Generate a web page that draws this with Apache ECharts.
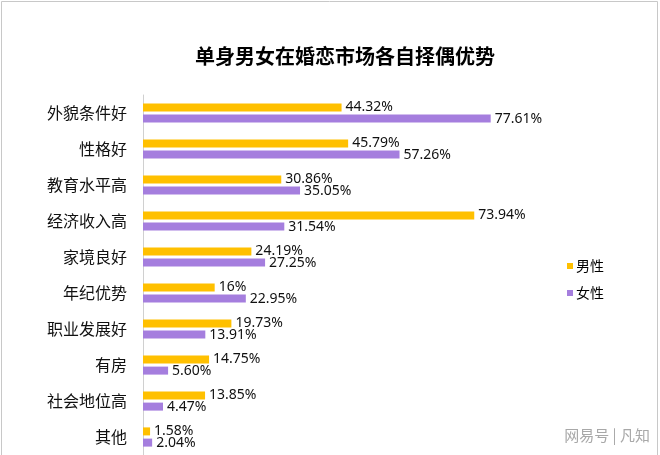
<!DOCTYPE html>
<html>
<head>
<meta charset="utf-8">
<script src="https://cdn.jsdelivr.net/npm/echarts@6/dist/echarts.min.js"></script>
<style>
  html, body { margin: 0; padding: 0; background: #fff; }
  #main { width: 660px; height: 455px; }
</style>
</head>
<body>
<div id="main"></div>
<script>
// 择偶优势分类
const categories = ['外貌条件好', '性格好', '教育水平高', '经济收入高', '家境良好', '年纪优势', '职业发展好', '有房', '社会地位高', '其他'];
// 男性 / 女性 百分比
const maleValues = [44.32, 45.79, 30.86, 73.94, 24.19, 16, 19.73, 14.75, 13.85, 1.58];
const femaleValues = [77.61, 57.26, 35.05, 31.54, 27.25, 22.95, 13.91, 5.60, 4.47, 2.04];
const seriesNames = ['男性', '女性'];

var chartDom = document.getElementById('main');
var myChart = echarts.init(chartDom);

const fmt = function (p) {
  const v = p.value;
  return (Number.isInteger(v) ? v : v.toFixed(2)) + '%';
};

const labelStyle = {
  show: true,
  position: 'right',
  distance: 4,
  fontSize: 14,
  color: '#111',
  fontFamily: 'Noto Sans',
  formatter: fmt
};

let option = {
  backgroundColor: '#fff',
  animation: false,
  title: {
    text: '单身男女在婚恋市场各自择偶优势',
    left: 190,
    top: 41,
    textStyle: {
      fontFamily: 'Noto Sans CJK SC',
      fontWeight: 'bold',
      fontSize: 20,
      color: '#000'
    }
  },
  legend: {
    orient: 'vertical',
    left: 562,
    top: 254,
    icon: 'rect',
    itemWidth: 6,
    itemHeight: 6,
    itemGap: 13,
    textStyle: {
      fontFamily: 'Noto Sans CJK SC',
      fontSize: 14,
      color: '#000',
      padding: [0, 0, 0, -2]
    },
    data: seriesNames
  },
  grid: {
    left: 143,
    top: 95,
    width: 448,
    height: 364
  },
  xAxis: {
    type: 'value',
    min: 0,
    max: 100,
    show: false
  },
  yAxis: {
    type: 'category',
    inverse: true,
    data: categories,
    axisLine: { show: true, lineStyle: { color: '#d0d0d0' } },
    axisTick: { show: false },
    axisLabel: {
      margin: 16,
      fontSize: 16,
      color: '#111',
      fontFamily: 'Noto Sans CJK SC'
    }
  },
  series: [
    {
      name: seriesNames[0],
      type: 'bar',
      barWidth: 8,
      barGap: '40%',
      itemStyle: { color: '#FFC000' },
      label: labelStyle,
      data: maleValues
    },
    {
      name: seriesNames[1],
      type: 'bar',
      barWidth: 8,
      barGap: '40%',
      itemStyle: { color: '#A57EDE' },
      label: labelStyle,
      data: femaleValues
    }
  ],
  graphic: [
    {
      type: 'rect',
      shape: { x: 1.5, y: 1.5, width: 656, height: 460 },
      style: { fill: 'none', stroke: '#c8c8c8', lineWidth: 1 },
      silent: true
    },
    {
      type: 'text',
      right: 10,
      top: 428,
      style: {
        text: '网易号 | 凡知',
        fontFamily: 'Noto Sans CJK SC',
        fontSize: 15,
        fill: '#a8a8a8'
      },
      silent: true
    }
  ]
};
option && myChart.setOption(option);
</script>
</body>
</html>
